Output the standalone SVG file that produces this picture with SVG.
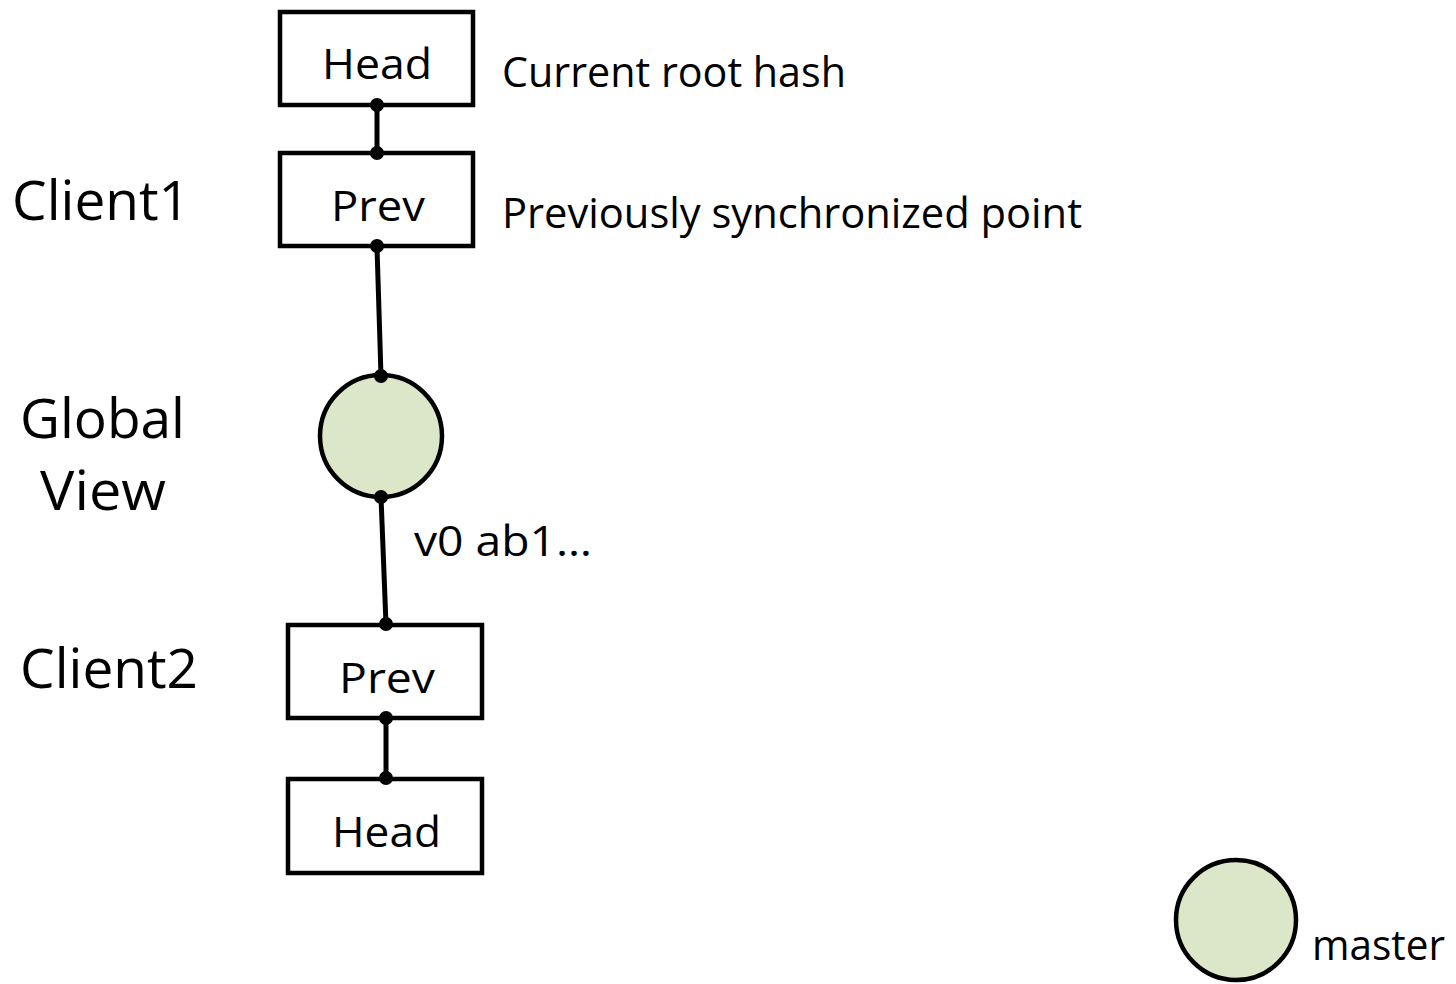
<svg xmlns="http://www.w3.org/2000/svg" width="1456" height="984" viewBox="0 0 1456 984">
  <style>
    .box { fill: #ffffff; stroke: #000000; stroke-width: 4.5; }
    .commit { fill: #dce6c8; stroke: #000000; stroke-width: 4.5; }
    .link { stroke: #000000; stroke-width: 5; fill: none; }
    .dot { fill: #000000; }
    text { font-family: "Open Sans", "Noto Sans", sans-serif; fill: #000000; }
    .lbl { font-size: 42px; }
    .side { font-size: 54px; }
  </style>

  <rect width="1456" height="984" fill="#ffffff"/>

  <!-- connectors -->
  <g id="connectors">
    <line class="link" x1="377" y1="106" x2="377" y2="152"/>
    <line class="link" x1="377" y1="247" x2="381" y2="376"/>
    <line class="link" x1="381" y1="497" x2="386" y2="624"/>
    <line class="link" x1="386" y1="718" x2="386" y2="778"/>
  </g>

  <!-- client 1 -->
  <g id="client1-head">
    <rect class="box" x="280" y="12" width="193" height="93"/>
    <text class="lbl" x="322" y="79" textLength="110" lengthAdjust="spacingAndGlyphs">Head</text>
  </g>
  <g id="client1-prev">
    <rect class="box" x="280" y="153" width="193" height="93"/>
    <text class="lbl" x="331" y="221" textLength="94" lengthAdjust="spacingAndGlyphs">Prev</text>
  </g>

  <!-- global view commit -->
  <g id="global-commit">
    <circle class="commit" cx="381" cy="436" r="61"/>
  </g>

  <!-- client 2 -->
  <g id="client2-prev">
    <rect class="box" x="288" y="625" width="194" height="93"/>
    <text class="lbl" x="339" y="693" textLength="96" lengthAdjust="spacingAndGlyphs">Prev</text>
  </g>
  <g id="client2-head">
    <rect class="box" x="288" y="779" width="194" height="94"/>
    <text class="lbl" x="332" y="847" textLength="109" lengthAdjust="spacingAndGlyphs">Head</text>
  </g>

  <!-- attachment dots -->
  <g id="joints">
    <circle class="dot" cx="377" cy="105" r="7"/>
    <circle class="dot" cx="377" cy="153" r="7"/>
    <circle class="dot" cx="377" cy="246" r="7"/>
    <circle class="dot" cx="381" cy="376" r="7"/>
    <circle class="dot" cx="381" cy="497" r="7"/>
    <circle class="dot" cx="386" cy="624" r="7"/>
    <circle class="dot" cx="386" cy="718" r="7"/>
    <circle class="dot" cx="386" cy="778" r="7"/>
  </g>

  <!-- annotations -->
  <g id="annotations">
    <text class="lbl" x="502" y="87" textLength="344" lengthAdjust="spacingAndGlyphs">Current root hash</text>
    <text class="lbl" x="502" y="228" textLength="580" lengthAdjust="spacingAndGlyphs">Previously synchronized point</text>
    <text class="lbl" x="414" y="556" textLength="178" lengthAdjust="spacingAndGlyphs">v0 ab1…</text>
  </g>

  <!-- row labels -->
  <g id="row-labels">
    <text class="side" x="12" y="220" textLength="178" lengthAdjust="spacingAndGlyphs">Client1</text>
    <text class="side" x="20" y="438" textLength="165" lengthAdjust="spacingAndGlyphs">Global</text>
    <text class="side" x="40" y="510" textLength="126" lengthAdjust="spacingAndGlyphs">View</text>
    <text class="side" x="20" y="688" textLength="178" lengthAdjust="spacingAndGlyphs">Client2</text>
  </g>

  <!-- legend -->
  <g id="legend">
    <circle class="commit" cx="1236" cy="920" r="60"/>
    <text class="lbl" x="1312" y="960" textLength="133" lengthAdjust="spacingAndGlyphs">master</text>
  </g>
</svg>
